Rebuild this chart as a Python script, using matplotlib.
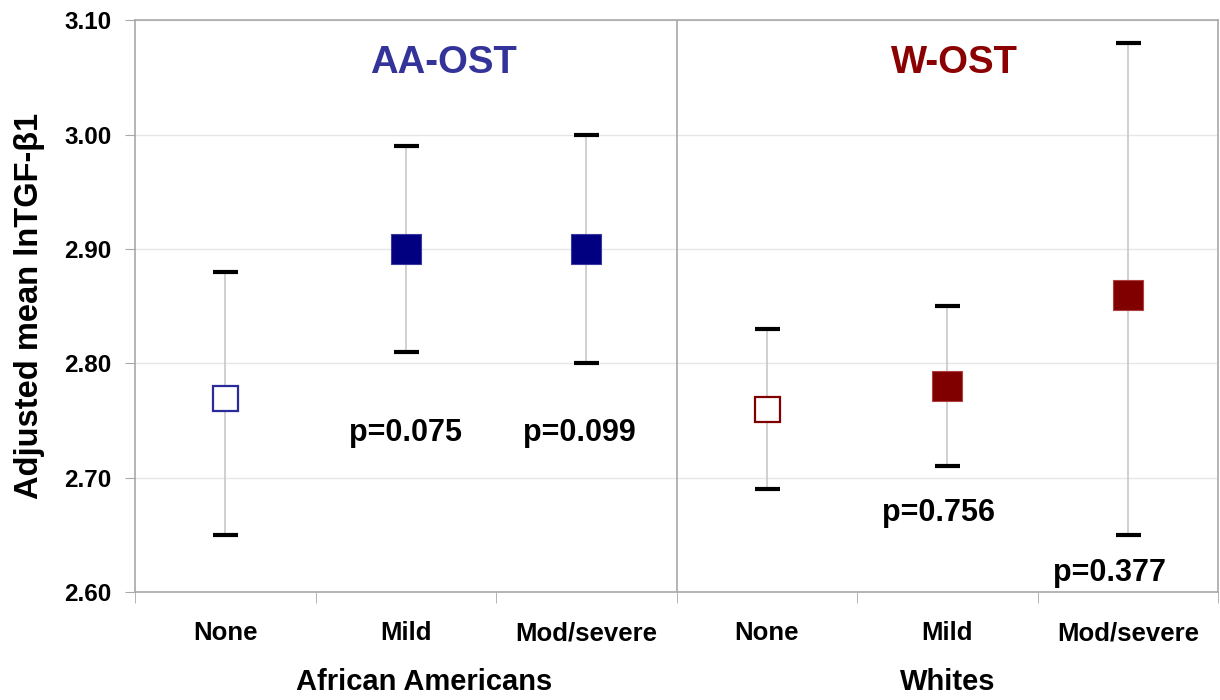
import numpy as np
import matplotlib
matplotlib.use("Agg")
from matplotlib import pyplot as plt
from matplotlib.transforms import blended_transform_factory

plt.rcParams['font.family'] = ['Liberation Sans', 'DejaVu Sans']
plt.rcParams['font.weight'] = 'bold'

# data
categories = ["None", "Mild", "Mod/severe", "None", "Mild", "Mod/severe"]
groups = ["African Americans", "Whites"]
means = [2.77, 2.90, 2.90, 2.76, 2.78, 2.86]
lower = [2.65, 2.81, 2.80, 2.69, 2.71, 2.65]
upper = [2.88, 2.99, 3.00, 2.83, 2.85, 3.08]
pvalues = ["p=0.075", "p=0.099", "p=0.756", "p=0.377"]
yticks = [2.60, 2.70, 2.80, 2.90, 3.00, 3.10]

navy = "#000080"
maroon = "#800000"

fig = plt.figure(figsize=(12.2, 7), dpi=100)
ax = fig.add_axes([0.1107, 0.154, 0.8877, 0.817])

x = np.arange(len(categories)) + 0.5

# error bars: grey stems, black caps
ax.vlines(x, lower, upper, color="#c8c8c8", lw=1.2, zorder=2)
ax.plot(x, lower, ls="none", marker="_", ms=18, mew=3, color="black", zorder=3)
ax.plot(x, upper, ls="none", marker="_", ms=18, mew=3, color="black", zorder=3)

# mean markers
ax.plot(x[0], means[0], "s", ms=18, mfc="white", mec="#2a2a9a", mew=1.6, zorder=4)
ax.plot(x[1:3], means[1:3], "s", ms=21, mfc=navy, mec="#3a3aa0", mew=0.8, ls="none", zorder=4)
ax.plot(x[3], means[3], "s", ms=18, mfc="white", mec=maroon, mew=1.6, zorder=4)
ax.plot(x[4:6], means[4:6], "s", ms=21, mfc=maroon, mec="#b04040", mew=0.8, ls="none", zorder=4)

# divider between groups
ax.axvline(3, color="#a8a8a8", lw=1.2, zorder=1)

ax.set_xlim(0, 6)
ax.set_ylim(2.60, 3.10)
ax.set_yticks(yticks)
ax.set_yticklabels([f"{v:.2f}" for v in yticks], fontsize=17.5, fontweight="bold")
ax.yaxis.grid(True, color="#e6e6e6", lw=1)
ax.set_axisbelow(True)

ax.set_xticks(x)
ax.set_xticklabels(categories, fontsize=18.5, fontweight="bold")
ax.set_xticks(np.arange(0, 7), minor=True)
ax.tick_params(axis="x", which="major", length=0, pad=21)
ax.tick_params(axis="x", which="minor", length=8, color="#a8a8a8", direction="out")
ax.tick_params(axis="y", length=7, color="#a8a8a8", pad=10)

for s in ax.spines.values():
    s.set_color("#a8a8a8")
    s.set_linewidth(1.2)

ax.set_ylabel("Adjusted mean lnTGF-\u03b21", fontsize=23.5, fontweight="bold", labelpad=14)

# group labels under the axis
trans = blended_transform_factory(ax.transData, ax.transAxes)
ax.text(1.6, -0.157, groups[0], transform=trans, ha="center", va="center", fontsize=21, fontweight="bold")
ax.text(4.5, -0.157, groups[1], transform=trans, ha="center", va="center", fontsize=21, fontweight="bold")

# panel titles
ax.text(1.71, 3.063, "AA-OST", color="#333399", ha="center", va="center", fontsize=27.5, fontweight="bold")
ax.text(4.54, 3.063, "W-OST", color="#8b0000", ha="center", va="center", fontsize=27.5, fontweight="bold")

# p-values
ax.text(1.5, 2.739, pvalues[0], ha="center", va="center", fontsize=22, fontweight="bold")
ax.text(2.46, 2.739, pvalues[1], ha="center", va="center", fontsize=22, fontweight="bold")
ax.text(4.45, 2.669, pvalues[2], ha="center", va="center", fontsize=22, fontweight="bold")
ax.text(5.40, 2.617, pvalues[3], ha="center", va="center", fontsize=22, fontweight="bold")

fig.savefig("out.png", dpi=100)
